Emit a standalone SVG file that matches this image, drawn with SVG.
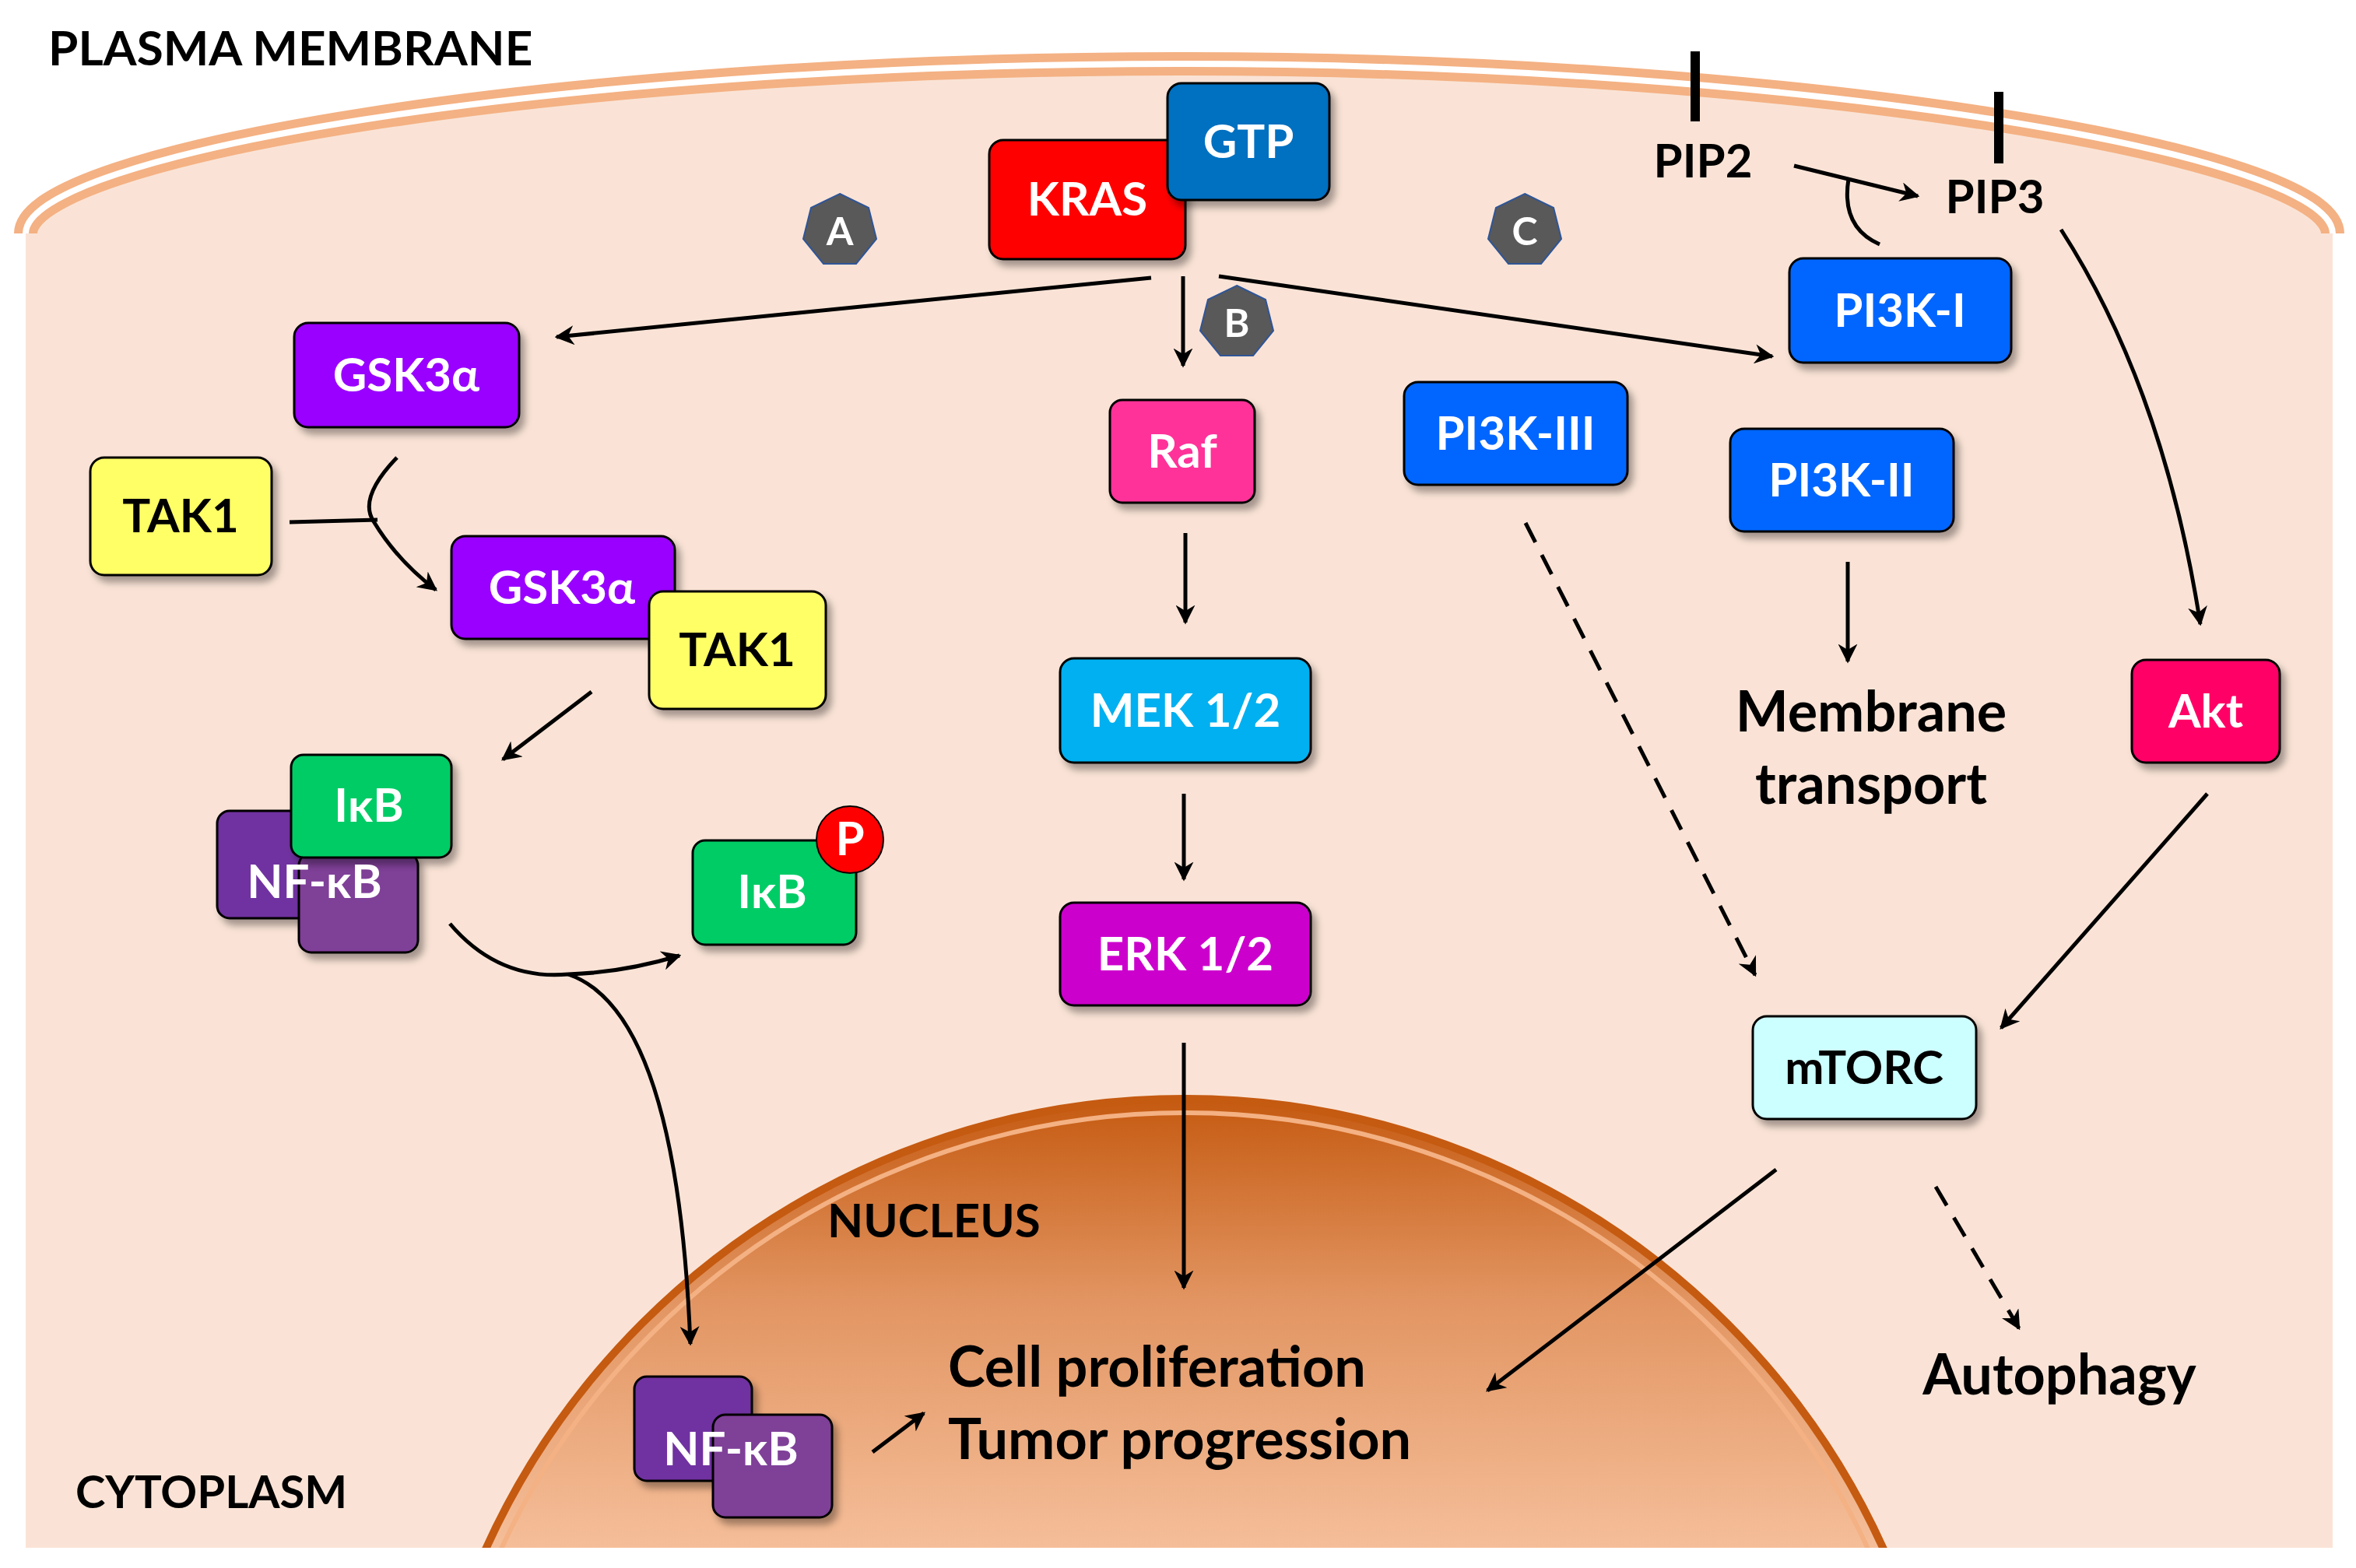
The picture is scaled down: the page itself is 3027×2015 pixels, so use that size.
<svg xmlns="http://www.w3.org/2000/svg" width="3027" height="2015" viewBox="0 0 3027 2015">
<defs>
<marker id="ar" viewBox="0 0 10 10" refX="9" refY="5" markerWidth="5" markerHeight="5" orient="auto" markerUnits="strokeWidth"><path d="M0,0 L10,5 L0,10 L3,5 Z" fill="#000"/></marker>
<linearGradient id="nuc" gradientUnits="userSpaceOnUse" x1="0" y1="1412" x2="0" y2="1989"><stop offset="0" stop-color="#C55A11"/><stop offset="0.45" stop-color="#E29562"/><stop offset="1" stop-color="#F5BE99"/></linearGradient>
<filter id="sh" x="-10%" y="-10%" width="130%" height="130%"><feDropShadow dx="6" dy="8" stdDeviation="5" flood-color="#000" flood-opacity="0.35"/></filter>
<clipPath id="cc"><rect x="0" y="0" width="3027" height="1989"/></clipPath>
</defs>
<style>
.b{stroke:#000;stroke-width:3;filter:url(#sh)}
.t{font-family:Lato,"Open Sans",sans-serif;font-weight:bold;font-size:60px;text-anchor:middle;fill:#fff}
.k{fill:#000}
.l{font-family:Lato,"Open Sans",sans-serif;font-weight:bold;fill:#000}
.s62{font-size:62px}
.s58{font-size:58px}
.s60{font-size:60px}
.s72{font-size:72px}
.m{text-anchor:middle}
.c{fill:none;stroke:#000;stroke-width:5;marker-end:url(#ar)}
.d{stroke-dasharray:28 18}
.hx{fill:#595959;stroke:#2F5597;stroke-width:2}
.ht{font-family:Lato,sans-serif;font-weight:bold;font-size:50px;fill:#fff;text-anchor:middle}
</style>
<rect width="3027" height="2015" fill="#fff"/>
<path id="cell" d="M33,1989 V300 C33,200 700,82 1515,82 C2330,82 2997,200 2997,300 V1989 Z" fill="#FAE3D6"/>
<path d="M33,300 C33,200 700,82 1515,82 C2330,82 2997,200 2997,300" fill="none" stroke="#F4B183" stroke-width="30"/>
<path d="M33,300 C33,200 700,82 1515,82 C2330,82 2997,200 2997,300" fill="none" stroke="#fff" stroke-width="8"/>
<g clip-path="url(#cc)">
<circle cx="1522" cy="2398" r="986" fill="url(#nuc)" stroke="#C55A11" stroke-width="10"/>
<circle cx="1522" cy="2398" r="968" fill="none" stroke="#F4B183" stroke-width="6"/>
</g>
<text class="l s62" x="62" y="84">PLASMA MEMBRANE</text>
<text class="l s58" x="97" y="1938">CYTOPLASM</text>
<text class="l s60" x="1063" y="1590">NUCLEUS</text>
<text class="l s72 m" x="2404" y="940">Membrane</text>
<text class="l s72 m" x="2404" y="1033">transport</text>
<text class="l s72" x="1218" y="1782">Cell proliferation</text>
<text class="l s72" x="1218" y="1875">Tumor progression</text>
<text class="l s72 m" x="2646" y="1792">Autophagy</text>
<text class="l s60 m" x="2188" y="228">PIP2</text>
<text class="l s60 m" x="2563" y="274">PIP3</text>
<rect x="2172" y="66" width="12" height="90" fill="#000"/>
<rect x="2562" y="118" width="12" height="92" fill="#000"/>

<g id="connectors">
<path class="c" d="M1479,357 L715,433"/>
<path class="c" d="M1520,355 L1520,470"/>
<path class="c" d="M1566,355 L2277,458"/>
<path class="c" d="M2305,213 L2464,252"/>
<path d="M2415,314 Q2365,292 2375,230" fill="none" stroke="#000" stroke-width="5"/>
<path class="c" d="M2648,295 Q2780,500 2827,802"/>
<path d="M510,588 Q460,640 480,670" fill="none" stroke="#000" stroke-width="5"/>
<path class="c" d="M480,670 Q510,720 560,758"/>
<path d="M372,671 L485,668" fill="none" stroke="#000" stroke-width="5"/>
<path class="c" d="M760,889 L646,976"/>
<path class="c" d="M578,1187 Q640,1260 730,1252 Q800,1250 873,1228"/>
<path class="c" d="M730,1252 Q870,1300 887,1727"/>
<path class="c" d="M1523,685 L1523,800"/>
<path class="c" d="M1521,1020 L1521,1130"/>
<path class="c" d="M1521,1340 L1521,1655"/>
<path class="c d" d="M1960,672 L2255,1253"/>
<path class="c" d="M2374,722 L2374,850"/>
<path class="c" d="M2836,1020 L2571,1321"/>
<path class="c" d="M2282,1503 L1911,1787"/>
<path class="c d" d="M2487,1525 L2594,1707"/>
<path class="c" d="M1121,1866 L1187,1816"/>
</g>

<g id="kras"><rect class="b" x="1271" y="180" width="252" height="153" rx="18" fill="#FF0000"/><text class="t" x="1397" y="277">KRAS</text></g>
<g id="gtp"><rect class="b" x="1500" y="107" width="208" height="150" rx="18" fill="#0070C0"/><text class="t" x="1604" y="203">GTP</text></g>
<g id="badgeA"><polygon class="hx" points="1079,249 1116,267 1126,307 1100,339 1058,339 1032,307 1042,267"/><text class="ht" x="1079" y="315">A</text></g>
<g id="badgeB"><polygon class="hx" points="1589,367 1626,385 1636,425 1610,457 1568,457 1542,425 1552,385"/><text class="ht" x="1589" y="433">B</text></g>
<g id="badgeC"><polygon class="hx" points="1959,249 1996,267 2006,307 1980,339 1938,339 1912,307 1922,267"/><text class="ht" x="1959" y="315">C</text></g>
<g id="gsk3a"><rect class="b" x="378" y="415" width="289" height="134" rx="18" fill="#9900FF"/><text class="t" x="522" y="503">GSK3α</text></g>
<g id="tak1"><rect class="b" x="116" y="588" width="233" height="151" rx="18" fill="#FFFF66"/><text class="t k" x="232" y="684">TAK1</text></g>
<g id="gsk3a2"><rect class="b" x="580" y="689" width="287" height="132" rx="18" fill="#9900FF"/><text class="t" x="722" y="776">GSK3α</text></g>
<g id="tak12"><rect class="b" x="834" y="760" width="227" height="151" rx="18" fill="#FFFF66"/><text class="t k" x="947" y="856">TAK1</text></g>
<g id="complex">
<rect class="b" x="279" y="1042" width="157" height="138" rx="16" fill="#7030A0"/>
<rect class="b" x="384" y="1096" width="153" height="128" rx="16" fill="#7F3F98"/>
<rect class="b" x="374" y="970" width="206" height="132" rx="16" fill="#00CC66"/>
<text class="t" x="474" y="1056">IκB</text>
<text class="t" x="404" y="1154">NF-κB</text>
</g>
<g id="ikbp"><rect class="b" x="890" y="1080" width="210" height="134" rx="16" fill="#00CC66"/><text class="t" x="992" y="1167">IκB</text>
<circle cx="1092" cy="1079" r="43" fill="#FF0000" stroke="#000" stroke-width="2"/><text class="t" x="1092" y="1099">P</text></g>
<g id="raf"><rect class="b" x="1426" y="514" width="186" height="132" rx="16" fill="#FF3399"/><text class="t" x="1519" y="601">Raf</text></g>
<g id="mek"><rect class="b" x="1362" y="846" width="322" height="134" rx="18" fill="#00B0F0"/><text class="t" x="1523" y="934">MEK 1/2</text></g>
<g id="erk"><rect class="b" x="1362" y="1160" width="322" height="132" rx="18" fill="#CC00CC"/><text class="t" x="1523" y="1247">ERK 1/2</text></g>
<g id="pi3k1"><rect class="b" x="2299" y="332" width="285" height="134" rx="18" fill="#0066FF"/><text class="t" x="2441" y="420">PI3K-I</text></g>
<g id="pi3k3"><rect class="b" x="1804" y="491" width="287" height="132" rx="18" fill="#0066FF"/><text class="t" x="1947" y="578">PI3K-III</text></g>
<g id="pi3k2"><rect class="b" x="2223" y="551" width="287" height="132" rx="18" fill="#0066FF"/><text class="t" x="2366" y="638">PI3K-II</text></g>
<g id="akt"><rect class="b" x="2739" y="848" width="190" height="132" rx="18" fill="#FF0066"/><text class="t" x="2834" y="935">Akt</text></g>
<g id="mtorc"><rect class="b" x="2252" y="1306" width="287" height="132" rx="18" fill="#CCFFFF"/><text class="t k" x="2395" y="1393">mTORC</text></g>
<g id="nfkb">
<rect class="b" x="815" y="1769" width="151" height="134" rx="16" fill="#7030A0"/>
<rect class="b" x="916" y="1818" width="153" height="132" rx="16" fill="#7F3F98"/>
<text class="t" x="939" y="1883">NF-κB</text>
</g>
</svg>
